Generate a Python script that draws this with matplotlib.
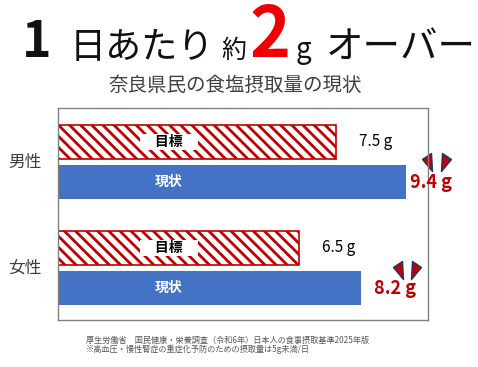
import matplotlib
matplotlib.use("Agg")
import matplotlib.pyplot as plt

plt.rcParams['font.family'] = ['Noto Sans CJK JP', 'DejaVu Sans']
plt.rcParams['hatch.linewidth'] = 2.0

# データ
groups = ['男性', '女性']
target = [7.5, 6.5]      # 目標
current = [9.4, 8.2]     # 現状
target_labels = ['7.5 g', '6.5 g']
current_labels = ['9.4 g', '8.2 g']

W, H = 478, 367
fig = plt.figure(figsize=(W / 100, H / 100), dpi=100)

def px(x, y):
    return x / W, 1 - y / H

# タイトル
fig.text(*px(22, 57), '1', fontsize=36, fontweight='bold', color='#111111', va='baseline')
fig.text(*px(70, 58), '日あたり', fontsize=26, color='#111111', va='baseline')
fig.text(*px(221, 58), '約', fontsize=18, color='#111111', va='baseline')
fig.text(*px(250, 57), '2', fontsize=50, fontweight='bold', color='#EE0000', va='baseline')
fig.text(*px(296, 58), 'g', fontsize=20, color='#111111', va='baseline')
fig.text(*px(326, 58), 'オーバー', fontsize=27, color='#111111', va='baseline')
fig.text(*px(235, 85), '奈良県民の食塩摂取量の現状', fontsize=14, color='#404040',
         ha='center', va='center')

ax = fig.add_axes([58 / W, (H - 320) / H, 370 / W, 212 / H])

y = list(range(len(groups)))
off = 0.19
h = 0.32
y_t = [v - off for v in y]
y_c = [v + off for v in y]

ax.barh(y_t, target, height=h, color='white', edgecolor='#C00000',
        hatch='\\\\\\', linewidth=1.2)
ax.barh(y_c, current, height=h, color='#4472C4')

# 矢じりの形
tri_l = [(-5, 3), (4, 9), (5, -9), (-5, 3)]
tri_r = [(5, 3), (-4, 9), (-5, -9), (5, 3)]

for i in range(len(groups)):
    ax.text(3.0, y_t[i], '　目標　', fontsize=10, fontweight='bold', ha='center', va='center',
            color='black', bbox=dict(facecolor='white', edgecolor='none', pad=1))
    ax.text(3.0, y_c[i], '現状', fontsize=10, fontweight='bold', ha='center', va='center',
            color='white')
    ax.annotate(target_labels[i], (target[i], y_t[i]), xytext=(17, 0), textcoords='offset points',
                fontsize=11, va='center', ha='left', color='black')
    ax.annotate(current_labels[i], (current[i], y_c[i]), xytext=(3 + 6 * i, 0),
                textcoords='offset points', fontsize=13, fontweight='bold',
                va='center', ha='left', color='#C00000')
    # 上向き矢印の飾り
    bx = current[i] + 0.58 + 0.4 * i
    by = y_c[i] - 0.19 + 0.02 * i
    ax.plot([bx], [by], marker=tri_l, markersize=13, color='#C00000',
            markeredgecolor='#1F3864', markeredgewidth=1, clip_on=False)
    ax.plot([bx + 0.5], [by], marker=tri_r, markersize=13, color='#C00000',
            markeredgecolor='#1F3864', markeredgewidth=1, clip_on=False)

ax.set_xlim(0, 10)
ax.set_ylim(1.49, -0.51)
ax.set_xticks([])
ax.set_yticks([])
for s in ax.spines.values():
    s.set_color('#808080')
    s.set_linewidth(1)

for i, g in enumerate(groups):
    fig.text(*px(25, 162 + 106 * i), g, fontsize=12, color='#404040', ha='center', va='center')

# 出典
fig.text(*px(86, 340), '厚生労働省　国民健康・栄養調査（令和6年）日本人の食事摂取基準2025年版',
         fontsize=5.9, color='#595959', va='center')
fig.text(*px(86, 349), '※高血圧・慢性腎症の重症化予防のための摂取量は5g未満/日',
         fontsize=5.9, color='#595959', va='center')

fig.savefig('out.png', dpi=100)
